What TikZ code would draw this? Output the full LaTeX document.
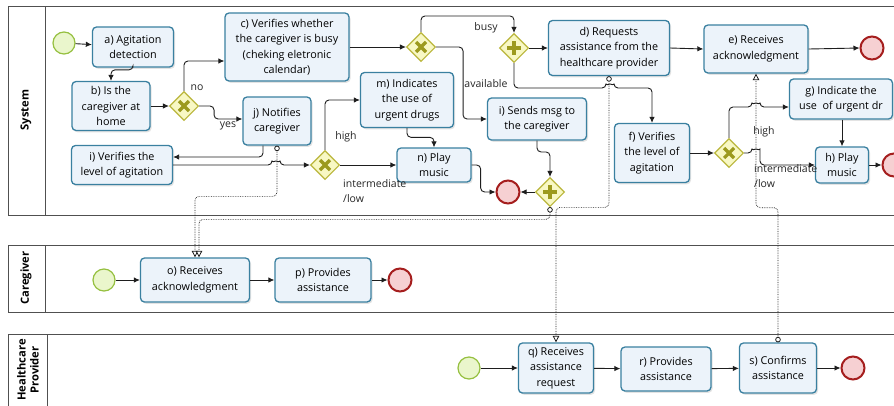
\documentclass[tikz,border=0pt]{standalone}
\usepackage{fontspec}
\setmainfont{Open Sans}
\usetikzlibrary{arrows.meta,shapes.geometric,shadows,calc}
\definecolor{taskfill}{RGB}{236,243,250}
\definecolor{taskdraw}{RGB}{58,128,160}
\definecolor{startfill}{RGB}{234,246,204}
\definecolor{startdraw}{RGB}{150,192,64}
\definecolor{endfill}{RGB}{246,208,210}
\definecolor{enddraw}{RGB}{165,30,30}
\definecolor{gwfill}{RGB}{248,248,196}
\definecolor{gwdraw}{RGB}{186,182,60}
\definecolor{gwmark}{RGB}{156,154,30}
\definecolor{linecol}{RGB}{30,30,30}
\definecolor{lanecol}{RGB}{80,80,80}
\tikzset{
  task/.style={draw=taskdraw, fill=taskfill, line width=1.3pt, rounded corners=4pt,
    align=center, font=\fontsize{10.8}{15.5}\selectfont, inner sep=1pt,
    drop shadow={shadow xshift=1.5pt, shadow yshift=-1.8pt, opacity=0.22}},
  startev/.style={circle, draw=startdraw, fill=startfill, line width=1.2pt, minimum size=22pt, inner sep=0pt},
  endev/.style={circle, draw=enddraw, fill=endfill, line width=2pt, minimum size=23pt, inner sep=0pt},
  gateway/.style={diamond, draw=gwdraw, fill=gwfill, line width=1.1pt, minimum width=29pt, minimum height=29pt, inner sep=0pt},
  gwx/.style={gateway, path picture={
    \draw[line width=3.2pt, draw=gwmark]
      ([shift={(-5pt,-5pt)}]path picture bounding box.center) -- ([shift={(5pt,5pt)}]path picture bounding box.center)
      ([shift={(-5pt,5pt)}]path picture bounding box.center) -- ([shift={(5pt,-5pt)}]path picture bounding box.center);}},
  gwp/.style={gateway, path picture={
    \draw[line width=3.2pt, draw=gwmark]
      ([shift={(-7pt,0pt)}]path picture bounding box.center) -- ([shift={(7pt,0pt)}]path picture bounding box.center)
      ([shift={(0pt,7pt)}]path picture bounding box.center) -- ([shift={(0pt,-7pt)}]path picture bounding box.center);}},
  seq/.style={draw=linecol, line width=0.9pt, -{Latex[length=6pt,width=5.5pt]}, rounded corners=4pt},
  msg/.style={draw=linecol, line width=0.7pt, densely dotted, rounded corners=4pt,
    {Circle[open,length=5.5pt,width=5.5pt,fill=white,line width=0.8pt]}-{Triangle[open,length=6.5pt,width=6.5pt,fill=white,line width=0.8pt]}},
  lane/.style={draw=lanecol, line width=0.9pt},
  lanelabel/.style={rotate=90, font=\fontsize{11.2}{13}\selectfont\bfseries, align=center, text=black},
  lbl/.style={font=\fontsize{10.5}{15}\selectfont, inner sep=0pt, text=black!85},
}
\begin{document}
\begin{tikzpicture}[x=1pt,y=-1pt]
\useasboundingbox (0,0) rectangle (894,405);
\fill[white] (0,0) rectangle (894,405);
\clip (0,0) rectangle (894,405);
% pools
\draw[lane] (8,6) rectangle (910,215);
\draw[lane] (45,6) -- (45,215);
\draw[lane] (8,245) rectangle (910,312);
\draw[lane] (45,245) -- (45,312);
\draw[lane] (8,334) rectangle (910,420);
\draw[lane] (47,334) -- (47,420);
\node[lanelabel] (lsys) at (26,110) {System};
\node[lanelabel] (lcg) at (26,278) {Caregiver};
\node[lanelabel] (lhp) at (28,370) {Healthcare\\Provider};

% System lane nodes
\node[startev] (s1) at (64,43) {};
\node[task, minimum width=81pt, minimum height=40pt] (a) at (133,47) {a) Agitation\\detection};
\node[task, minimum width=78pt, minimum height=49pt] (b) at (111,106) {b) Is the\\caregiver at\\home};
\node[gwx] (g1) at (184,106) {};
\node[task, minimum width=124pt, minimum height=68pt] (c) at (287,47) {c) Verifies whether\\the caregiver is busy\\(cheking eletronic\\calendar)};
\node[task, minimum width=68pt, minimum height=48pt] (j) at (277,121) {j) Notifies\\caregiver};
\node[task, minimum width=101pt, minimum height=39pt] (i1) at (122,165) {i) Verifies the\\level of agitation};
\node[gwx] (g2) at (325,165) {};
\node[task, minimum width=93pt, minimum height=55pt] (m) at (407,100) {m) Indicates\\the use of\\urgent drugs};
\node[task, minimum width=74pt, minimum height=34pt] (n) at (434,165) {n) Play\\music};
\node[endev] (e1) at (508,192) {};
\node[gwp] (g5) at (550,192) {};
\node[gwx] (g3) at (421,47) {};
\node[gwp] (g4) at (514,48) {};
\node[task, minimum width=99pt, minimum height=42pt] (i2) at (537,119) {i) Sends msg to\\the caregiver};
\node[task, minimum width=121pt, minimum height=55pt] (d) at (609,48) {d) Requests\\assistance from the\\healthcare provider};
\node[task, minimum width=104pt, minimum height=48pt] (e) at (756,49) {e) Receives\\acknowledgment};
\node[endev] (e2) at (872,48) {};
\node[task, minimum width=103pt, minimum height=40pt] (g) at (841,99) {g) Indicate the\\use~ of urgent dr};
\node[task, minimum width=75pt, minimum height=59pt] (f) at (652,153) {f) Verifies\\the level of\\agitation};
\node[gwx] (g6) at (729,153) {};
\node[task, minimum width=53pt, minimum height=36pt] (h) at (842,165) {h) Play\\music};
\node[endev] (e3) at (894,165) {};

% Caregiver lane
\node[startev] (s2) at (104,280) {};
\node[task, minimum width=109pt, minimum height=44pt] (o) at (195,280) {o) Receives\\acknowledgment};
\node[task, minimum width=96pt, minimum height=44pt] (p) at (323,280) {p) Provides\\assistance};
\node[endev] (e4) at (400,280) {};

% Healthcare provider lane
\node[startev] (s3) at (469,368) {};
\node[task, minimum width=75pt, minimum height=50pt] (q) at (556,368) {q) Receives\\assistance\\request};
\node[task, minimum width=90pt, minimum height=44pt] (r) at (666,369) {r) Provides\\assistance};
\node[task, minimum width=77pt, minimum height=50pt] (s) at (778,368) {s) Confirms\\assistance};
\node[endev] (e5) at (853,368) {};

% sequence flows - system
\draw[seq] (s1) -- (a);
\draw[seq] (a.south) |- ($(b.north)+(0,-11)$) -- (b.north);
\draw[seq] (b) -- (g1);
\draw[seq] (g1.north) |- ($(c.west)+(0,14)$);
\node[lbl] (lno) at (197,88) {no};
\draw[seq] (g1.east) -- ++(15,0) |- ($(j.west)+(0,-2)$);
\node[lbl] (lyes) at (228,126) {yes};
\draw[seq] ($(j.south)+(-14,0)$) |- ($(i1.east)+(0,-8)$);
\draw[seq] (i1.east) -- (272,165) arc[start angle=180,end angle=360,radius=4] -- (g2.west);
\draw[seq] (g2.north) |- (m.west);
\node[lbl] (lhigh1) at (346,137) {high};
\draw[seq] (g2.east) -- (n.west);
\node[lbl, anchor=north west, align=left] (lint1) at (343,179) {intermediate\\/low};
\draw[seq] (m.south) |- ($(n.north)+(0,-10)$) -- (n.north);
\draw[seq] (n.east) -- ++(9,0) |- (e1.west);
\draw[seq] (g5.west) -- (e1.east);
\draw[seq] (i2.south) |- ($(g5.north)+(0,-25)$) -- (g5.north);
\draw[seq] (c.east) -- (g3.west);
\draw[seq] (g3.north) -- ++(0,-16) -| (g4.north);
\node[lbl] (lbusy) at (486,28) {busy};
\draw[seq] (g3.east) -- ++(27,0) |- (i2.west);
\node[lbl] (lavail) at (486,84) {available};
\draw[seq] (g4.east) -- (d.west);
\draw[seq] (g4.south) |- (606,88) arc[start angle=180,end angle=360,radius=4] -| (f.north);
\draw[seq] (d.east) -- (e.west);
\draw[seq] (e.east) -- (e2.west);
\draw[seq] (f.east) -- (g6.west);
\draw[seq] (g6.north) |- (752,107) arc[start angle=180,end angle=360,radius=4] -- ($(g.west)+(0,8)$);
\node[lbl] (lhigh2) at (764,132) {high};
\draw[seq] (g6.east) -- (752,153) arc[start angle=180,end angle=360,radius=4] |- (h.west);
\node[lbl, anchor=north west, align=left] (lint2) at (754,164) {intermediate\\/low};
\draw[seq] (h.north |- g.south) -- (h.north);
\draw[seq] (h.east) -- (e3.west);

% caregiver lane flows
\draw[seq] (s2) -- (o);
\draw[seq] (o) -- (p);
\draw[seq] (p) -- (e4);

% healthcare flows
\draw[seq] (s3) -- (q);
\draw[seq] (q) -- (r);
\draw[seq] (r) -- (s);
\draw[seq] (s) -- (e5);

% message flows
\draw[msg] (j.south) |- ($(o.north)+(0,-61)$) -- (o.north);
\draw[msg] (g5.south) |- ($(o.north)+(4,-38)$) -- ($(o.north)+(4,0)$);
\draw[msg] (d.south) |- ($(q.north)+(0,-135)$) -- (q.north);
\draw[msg] (s.north) |- ($(e.south)+(0,134)$) -- (e.south);
\end{tikzpicture}
\end{document}
